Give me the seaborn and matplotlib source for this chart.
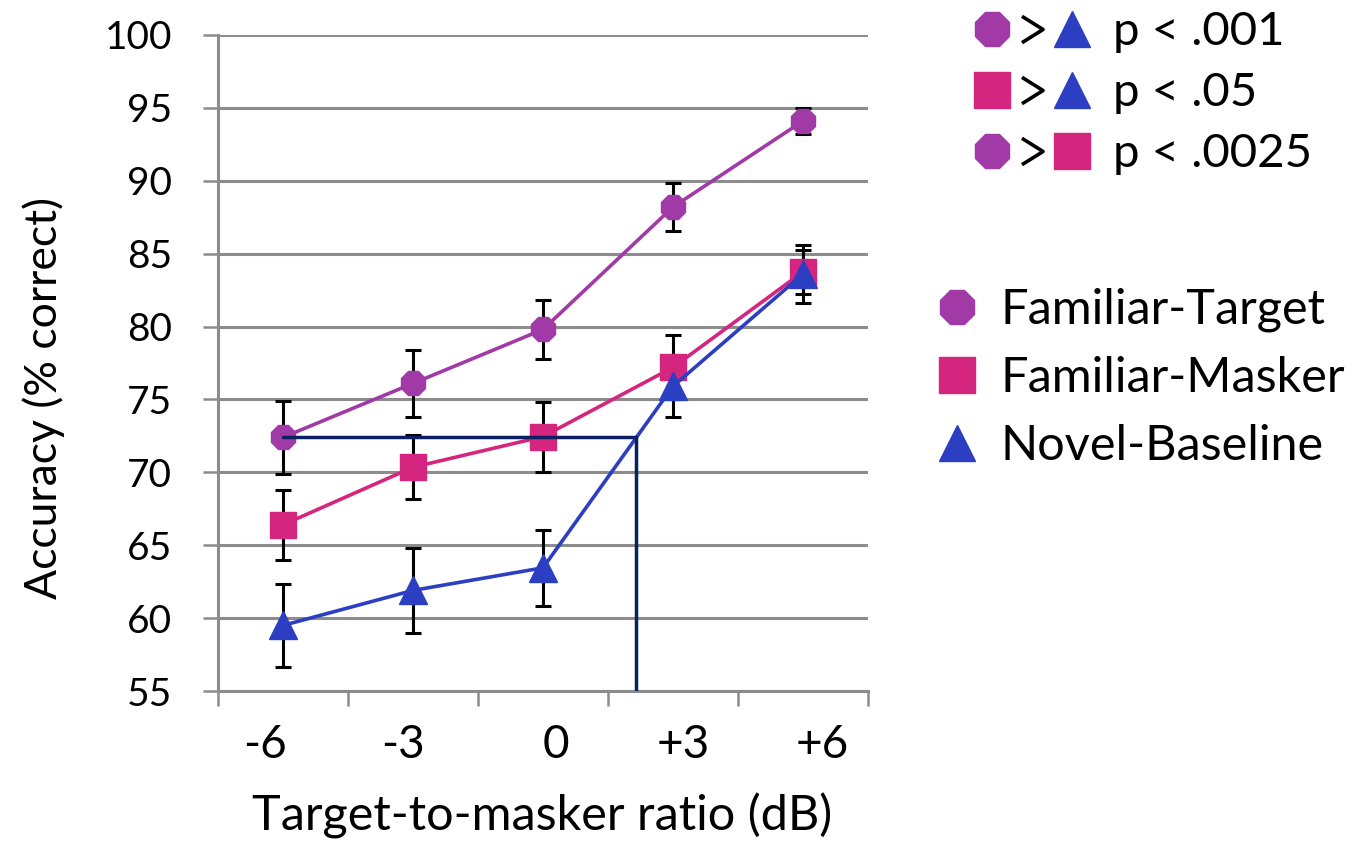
import numpy as np
import pandas as pd
import matplotlib
matplotlib.use("Agg")
import matplotlib.pyplot as plt
from matplotlib.lines import Line2D
from matplotlib.path import Path
from matplotlib.legend_handler import HandlerTuple
import seaborn as sns

# ---- data -------------------------------------------------------------
snr_labels = ["-6", "-3", "0", "+3", "+6"]
conditions = ["Familiar-Target", "Familiar-Masker", "Novel-Baseline"]

familiar_target = [72.4, 76.1, 79.8, 88.2, 94.1]
familiar_target_err = [2.5, 2.3, 2.0, 1.65, 0.9]
familiar_masker = [66.4, 70.35, 72.45, 77.2, 83.75]
familiar_masker_err = [2.4, 2.2, 2.4, 2.2, 1.5]
novel_baseline = [59.5, 61.9, 63.45, 75.9, 83.6]
novel_baseline_err = [2.85, 2.9, 2.6, 2.1, 2.0]

sig_labels = ["p < .001", "p < .05", "p < .0025"]

# ---- styling ----------------------------------------------------------
sns.set_theme(style="white")
plt.rcParams["font.family"] = ["Lato", "DejaVu Sans"]
plt.rcParams["text.color"] = "black"
plt.rcParams["axes.labelcolor"] = "black"

colors = {
    "Familiar-Target": "#A13AA6",
    "Familiar-Masker": "#D4267F",
    "Novel-Baseline": "#2C3FC2",
}
markers = {
    "Familiar-Target": "8",
    "Familiar-Masker": "s",
    "Novel-Baseline": "^",
}
marker_sizes = {"Familiar-Target": 19, "Familiar-Masker": 19, "Novel-Baseline": 20}
grid_gray = "#8C8C8C"
navy = "#0B2060"

values = {
    "Familiar-Target": familiar_target,
    "Familiar-Masker": familiar_masker,
    "Novel-Baseline": novel_baseline,
}
errors = {
    "Familiar-Target": familiar_target_err,
    "Familiar-Masker": familiar_masker_err,
    "Novel-Baseline": novel_baseline_err,
}

positions = np.arange(len(snr_labels))
df = pd.DataFrame(
    [
        {"pos": p, "snr": lab, "condition": c, "acc": values[c][i], "err": errors[c][i]}
        for c in conditions
        for i, (p, lab) in enumerate(zip(positions, snr_labels))
    ]
)

fig = plt.figure(figsize=(13.66, 8.43), dpi=100)
ax = fig.add_axes([0.1596, 0.1803, 0.4758, 0.7782])

# error bars underneath the markers
for c in conditions:
    sub = df[df["condition"] == c]
    ax.errorbar(
        sub["pos"], sub["acc"], yerr=sub["err"], fmt="none",
        ecolor="black", elinewidth=2.2, capsize=6, capthick=2.2, zorder=3,
    )

# lines with markers, one series at a time so the triangles end on top
for k, c in enumerate(conditions):
    sub = df[df["condition"] == c]
    sns.lineplot(
        data=sub, x="pos", y="acc", ax=ax, color=colors[c],
        marker=markers[c], markersize=marker_sizes[c],
        markeredgecolor=colors[c], markeredgewidth=1,
        linewidth=2.6, legend=False, zorder=4 + k,
    )

# criterion: where Novel-Baseline reaches Familiar-Target's -6 dB score
criterion = familiar_target[0]
nb = np.array(novel_baseline)
seg = np.searchsorted(nb, criterion)
cross = positions[seg - 1] + (criterion - nb[seg - 1]) / (nb[seg] - nb[seg - 1])
ax.plot([positions[0], cross], [criterion, criterion], color=navy, lw=2.5, zorder=8)
ax.plot([cross, cross], [55, criterion], color=navy, lw=2.5, zorder=8)

# axes
ax.set_ylim(55, 100)
ax.set_xlim(-0.5, len(snr_labels) - 0.5)
ax.set_yticks(np.arange(55, 101, 5))
ax.tick_params(axis="y", labelsize=28, length=11, width=1.8, color=grid_gray,
               labelcolor="black", direction="out", pad=22, left=True)
ax.yaxis.grid(True, color=grid_gray, linewidth=2.2)
ax.set_axisbelow(True)

# category boundaries as ticks, labels placed separately
ax.set_xticks(np.arange(-0.5, len(snr_labels), 1.0))
ax.set_xticklabels([])
ax.tick_params(axis="x", which="major", length=11, width=1.8, color=grid_gray,
               direction="out", bottom=True)
label_pos = positions + np.array([-0.14, -0.08, 0.1, 0.08, 0.15])
ax.set_xticks(label_pos, minor=True)
ax.set_xticklabels(snr_labels, minor=True)
ax.tick_params(axis="x", which="minor", length=0, labelsize=33, pad=24,
               labelcolor="black")

for side in ["top", "right"]:
    ax.spines[side].set_visible(False)
for side in ["left", "bottom"]:
    ax.spines[side].set_color(grid_gray)
    ax.spines[side].set_linewidth(2.2)

ax.set_xlabel("Target-to-masker ratio (dB)", fontsize=35, va="center")
ax.xaxis.set_label_coords(0.4985, -0.1905)
ax.set_ylabel("Accuracy (% correct)", fontsize=32, va="center")
ax.yaxis.set_label_coords(-0.269, 0.447)

# significance key
def key(c, ms=26.5):
    return Line2D([], [], linestyle="none", marker=markers[c], markersize=ms,
                  color=colors[c], markeredgecolor=colors[c])

chevron = Path([(-0.8, 1.0), (0.8, 0.0), (-0.8, -1.0)],
               [Path.MOVETO, Path.LINETO, Path.LINETO])
gt = Line2D([], [], linestyle="none", marker=chevron, markersize=19,
            markerfacecolor="none", markeredgecolor="black", markeredgewidth=2.6)
sig_handles = [
    (key("Familiar-Target"), gt, key("Novel-Baseline")),
    (key("Familiar-Masker"), gt, key("Novel-Baseline")),
    (key("Familiar-Target"), gt, key("Familiar-Masker")),
]
fig.legend(
    sig_handles, sig_labels, handler_map={tuple: HandlerTuple(ndivide=None, pad=0)},
    loc="upper left", bbox_to_anchor=(0.698, 1.009), frameon=False, fontsize=34,
    handlelength=2.54, handletextpad=0.44, labelspacing=0.40, borderaxespad=0,
)

# condition key
cond_handles = [key(c) for c in conditions]
fig.legend(
    cond_handles, conditions, loc="upper left", bbox_to_anchor=(0.6688, 0.682),
    frameon=False, fontsize=35, handlelength=1.0, handletextpad=0.38,
    labelspacing=0.49, borderaxespad=0,
)

fig.savefig("out.png", dpi=100)
